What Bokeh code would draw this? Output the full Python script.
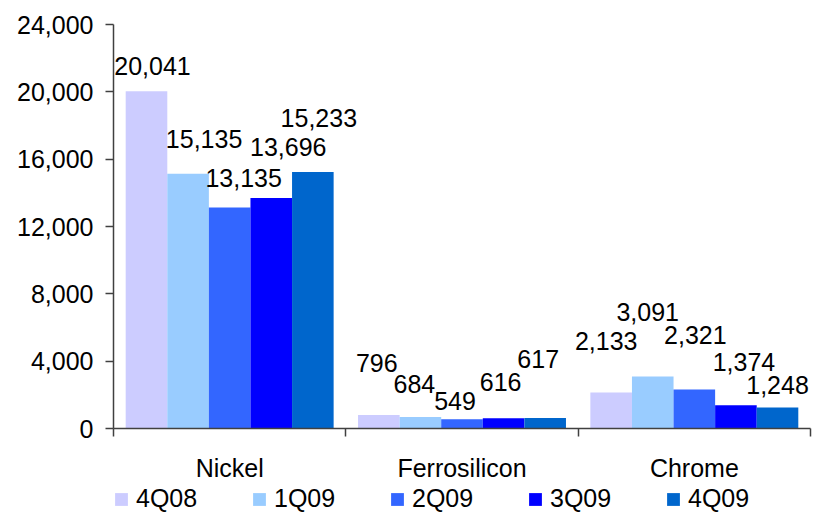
from bokeh.plotting import figure
from bokeh.layouts import column
from bokeh.models import ColumnDataSource, FixedTicker, Legend, LegendItem, Range1d, NumeralTickFormatter
from bokeh.core.properties import value
from bokeh.embed import file_html
from bokeh.resources import INLINE

# ---- data ----
categories = ["Nickel", "Ferrosilicon", "Chrome"]
series = ["4Q08", "1Q09", "2Q09", "3Q09", "4Q09"]
v_4q08 = [20041, 796, 2133]
v_1q09 = [15135, 684, 3091]
v_2q09 = [13135, 549, 2321]
v_3q09 = [13696, 616, 1374]
v_4q09 = [15233, 617, 1248]
y_ticks = [0, 4000, 8000, 12000, 16000, 20000, 24000]

# ---- style ----
colors = ["#CCCCFF", "#99CCFF", "#3366FF", "#0000FF", "#0066CC"]
FONT = "Liberation Sans"
FS = "25px"
AXIS_COLOR = "#404040"
bar_w = 0.179
# label nudges (screen px): horizontal shift, and gap from bar top to text centre
label_dx = [[6, -2, -5], [16, -6, -5], [14, -7, 1], [17, -3, 8], [6, -7, 0]]
label_gap = [[25, 52, 52], [35, 33, 64], [29, 18, 54], [51, 36, 43], [54, 59, 22]]

all_vals = [v_4q08, v_1q09, v_2q09, v_3q09, v_4q09]
ncat = len(categories)

p = figure(width=819, height=484, output_backend="svg", toolbar_location=None,
           x_range=Range1d(0, ncat), y_range=Range1d(0, 24000),
           min_border_left=113, min_border_right=9, min_border_top=24, min_border_bottom=54)
p.outline_line_color = None
p.xgrid.visible = False
p.ygrid.visible = False
p.background_fill_color = "white"
p.border_fill_color = "white"

for j, (name, vals, col) in enumerate(zip(series, all_vals, colors)):
    xs = [i + 0.5 + (j - 2) * bar_w for i in range(ncat)]
    src = ColumnDataSource(dict(
        x=xs, top=vals,
        label=[f"{v:,}" for v in vals],
        dx=label_dx[j],
        dy=[-g for g in label_gap[j]],
    ))
    p.vbar(x="x", top="top", width=bar_w, bottom=0, source=src,
           fill_color=col, line_color=None)
    p.text(x="x", y="top", text="label", source=src, x_offset="dx", y_offset="dy",
           text_align="center", text_baseline="middle",
           text_font=value(FONT), text_font_size=FS, text_color="black")

# y axis
ya = p.yaxis[0]
ya.ticker = FixedTicker(ticks=y_ticks)
ya.formatter = NumeralTickFormatter(format="0,0")
ya.major_label_text_font = FONT
ya.major_label_text_font_size = FS
ya.major_label_text_color = "black"
ya.axis_line_color = AXIS_COLOR
ya.axis_line_width = 1.5
ya.major_tick_line_color = AXIS_COLOR
ya.major_tick_line_width = 1.5
ya.major_tick_out = 8
ya.major_tick_in = 0
ya.minor_tick_line_color = None
ya.major_label_standoff = 12

# x axis: category labels at centres, boundary ticks as minor ticks
xa = p.xaxis[0]
centers = [i + 0.5 for i in range(ncat)]
xa.ticker = FixedTicker(ticks=centers, minor_ticks=list(range(ncat + 1)))
xa.major_label_overrides = {c: name for c, name in zip(centers, categories)}
xa.major_label_text_font = FONT
xa.major_label_text_font_size = FS
xa.major_label_text_color = "black"
xa.axis_line_color = AXIS_COLOR
xa.axis_line_width = 1.5
xa.major_tick_line_color = None
xa.major_tick_out = 0
xa.major_tick_in = 0
xa.minor_tick_line_color = AXIS_COLOR
xa.minor_tick_line_width = 1.5
xa.minor_tick_out = 8
xa.minor_tick_in = 0
xa.major_label_standoff = 17

# legend strip below the chart
lg = figure(width=819, height=29, output_backend="svg", toolbar_location=None,
            x_range=Range1d(0, 1), y_range=Range1d(0, 1),
            min_border_left=113, min_border_right=9, min_border_top=0, min_border_bottom=0)
lg.axis.visible = False
lg.grid.visible = False
lg.outline_line_color = None
items = []
for name, col in zip(series, colors):
    # legend swatch proxy: zero-height bar outside the visible range
    r = lg.vbar(x=[-5], top=[0], width=0.1, fill_color=col, line_color=None)
    items.append(LegendItem(label=name, renderers=[r]))
legend = Legend(items=items, orientation="horizontal", location=(0, 0),
                padding=0, margin=0, spacing=6, label_width=109,
                glyph_width=16, glyph_height=16, label_standoff=7, label_height=16,
                label_text_font=FONT, label_text_font_size=FS, label_text_color="black",
                label_text_line_height=1.0,
                border_line_color=None, background_fill_alpha=0)
lg.add_layout(legend)

open("out.html", "w").write(file_html(column(p, lg, spacing=0), INLINE))
